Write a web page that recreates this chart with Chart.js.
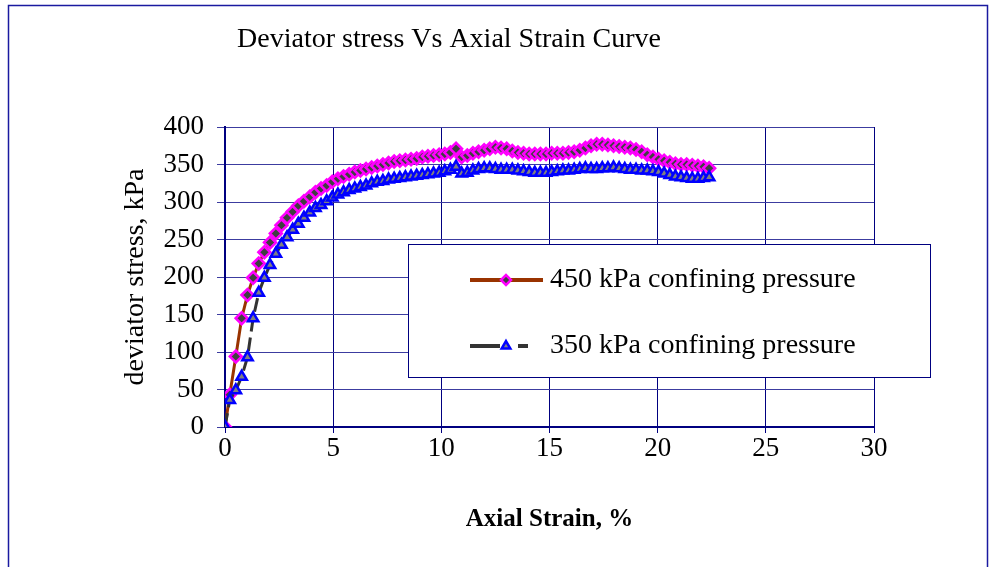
<!DOCTYPE html>
<html>
<head>
<meta charset="utf-8">
<script src="https://cdn.jsdelivr.net/npm/chart.js@4/dist/chart.umd.min.js"></script>
<style>
  body { margin: 0; background: #fff; }
</style>
</head>
<body>
<canvas id="stressChart" width="991" height="567"></canvas>
<script>
// axial strain, %
const strain = [0, 0.22, 0.5, 0.77, 1.04, 1.3, 1.56, 1.82, 2.08, 2.35, 2.61, 2.87, 3.13, 3.39, 3.65, 3.92,
  4.18, 4.44, 4.7, 4.96, 5.22, 5.48, 5.74, 6.0, 6.26, 6.52, 6.78, 7.04, 7.3, 7.56, 7.82, 8.08, 8.34, 8.6,
  8.86, 9.12, 9.38, 9.64, 9.9, 10.16, 10.42, 10.68, 10.94, 11.2, 11.46, 11.72, 11.98, 12.24, 12.5, 12.76,
  13.02, 13.28, 13.54, 13.8, 14.06, 14.32, 14.58, 14.84, 15.1, 15.36, 15.62, 15.88, 16.14, 16.4, 16.66,
  16.92, 17.18, 17.44, 17.7, 17.96, 18.22, 18.48, 18.74, 19.0, 19.26, 19.52, 19.78, 20.04, 20.3, 20.56,
  20.82, 21.08, 21.34, 21.6, 21.86, 22.12, 22.38];

// deviator stress, kPa
const stress450 = [0, 43, 94, 145, 176, 199, 218, 233, 246, 258, 269, 279, 287, 295, 301, 307,
  313, 318, 322, 327, 331, 334, 337, 340, 342, 344, 346, 348, 350, 352, 354, 355, 356, 357,
  358, 360, 361, 362, 363, 364, 366, 371, 360, 362, 365, 367, 369, 371, 373, 372,
  371, 368, 366, 365, 364, 364, 364, 364, 365, 365, 365, 366, 367, 369, 372,
  375, 377, 377, 376, 375, 374, 373, 372, 370, 367, 363, 360, 357, 355, 353,
  351, 350, 350, 349, 348, 347, 345];

const stress350 = [0, 36, 49, 67, 93, 145, 179, 199, 216, 231, 243, 253, 263, 271, 279, 286,
  292, 296, 301, 306, 310, 313, 316, 318, 320, 322, 325, 327, 328, 330, 331, 332, 333, 334,
  335, 336, 337, 338, 339, 341, 343, 347, 338, 339, 342, 344, 345, 345, 344, 343,
  343, 343, 342, 341, 340, 339, 339, 339, 340, 341, 342, 342, 343, 344, 345,
  344, 344, 345, 345, 346, 345, 344, 343, 343, 342, 342, 341, 340, 338, 336,
  334, 333, 332, 331, 331, 332, 333];

const seriesNames = ['450 kPa confining pressure', '350 kPa confining pressure'];
const chartTitle = 'Deviator stress Vs Axial Strain Curve';
const xTitle = 'Axial Strain, %';
const yTitle = 'deviator stress, kPa';

const serif = '"Liberation Serif", "Times New Roman", serif';
const navy = '#000080';

function toPoints(ys) {
  return strain.map((x, i) => ({ x: x, y: ys[i] }));
}

// white page, outer frame, chart title
const framePlugin = {
  id: 'framePlugin',
  beforeDraw(chart) {
    const ctx = chart.ctx;
    ctx.save();
    ctx.fillStyle = '#fff';
    ctx.fillRect(0, 0, chart.width, chart.height);
    ctx.restore();
  },
  afterDraw(chart) {
    const ctx = chart.ctx;
    ctx.save();
    ctx.strokeStyle = '#1a1aa0';
    ctx.lineWidth = 1.5;
    ctx.strokeRect(8.5, 5.5, 979, 600);
    ctx.fillStyle = '#000';
    ctx.font = '28px ' + serif;
    ctx.textAlign = 'center';
    ctx.textBaseline = 'middle';
    ctx.fillText(chartTitle, 449, 40);
    ctx.restore();
  }
};

// legend box sitting over the plot, as in the original
const legendBox = {
  id: 'legendBox',
  afterDraw(chart) {
    const ctx = chart.ctx;
    ctx.save();
    ctx.fillStyle = '#fff';
    ctx.fillRect(408, 244, 522, 133);
    ctx.strokeStyle = navy;
    ctx.lineWidth = 1;
    ctx.strokeRect(408.5, 244.5, 522, 133);
    chart.data.datasets.forEach((ds, i) => {
      const y = 280 + i * 66;
      ctx.strokeStyle = ds.borderColor;
      ctx.lineWidth = 4;
      ctx.setLineDash(ds.borderDash ? [30, 18, 10, 30] : []);
      ctx.beginPath();
      ctx.moveTo(470, y);
      ctx.lineTo(543, y);
      ctx.stroke();
      ctx.setLineDash([]);
      ctx.fillStyle = ds.pointBackgroundColor;
      ctx.strokeStyle = ds.pointBorderColor;
      ctx.lineWidth = ds.pointBorderWidth;
      Chart.helpers.drawPoint(ctx, {
        pointStyle: ds.pointStyle,
        radius: 5,
        borderWidth: ds.pointBorderWidth,
        rotation: 0
      }, 506, y);
      ctx.fillStyle = '#000';
      ctx.font = '28px ' + serif;
      ctx.textAlign = 'left';
      ctx.textBaseline = 'middle';
      ctx.fillText(ds.label, 550, y);
    });
    ctx.restore();
  }
};

const ctx = document.getElementById('stressChart').getContext('2d');
new Chart(ctx, {
  type: 'line',
  data: {
    datasets: [{
      label: seriesNames[0],
      data: toPoints(stress450),
      order: 1,
      borderColor: '#993300',
      borderWidth: 3,
      pointStyle: 'rectRot',
      pointRadius: 6,
      pointBackgroundColor: '#404040',
      pointBorderColor: '#ff00ff',
      pointBorderWidth: 2.5,
      tension: 0
    }, {
      label: seriesNames[1],
      data: toPoints(stress350),
      order: 0,
      borderColor: '#333333',
      borderWidth: 3,
      borderDash: [14, 6],
      pointStyle: 'triangle',
      pointRadius: 6,
      pointBackgroundColor: '#808080',
      pointBorderColor: '#0000ff',
      pointBorderWidth: 2.5,
      tension: 0
    }]
  },
  options: {
    responsive: false,
    animation: false,
    layout: {
      padding: { left: 119, right: 117, top: 127, bottom: 0 }
    },
    plugins: {
      legend: { display: false },
      title: { display: false },
      tooltip: { enabled: false }
    },
    scales: {
      x: {
        type: 'linear',
        min: 0,
        max: 30,
        ticks: {
          stepSize: 5,
          padding: 0,
          color: '#000',
          font: { family: serif, size: 27 }
        },
        grid: { color: navy, lineWidth: 1, tickLength: 6, tickColor: navy },
        border: { color: navy, width: 2 },
        title: {
          display: true,
          text: xTitle,
          color: '#000',
          font: { family: serif, size: 25, weight: 'bold' },
          padding: { top: 0, bottom: 32 }
        },
        afterFit(scale) { scale.height = 140; }
      },
      y: {
        min: 0,
        max: 400,
        ticks: {
          stepSize: 50,
          padding: 13,
          color: '#000',
          font: { family: serif, size: 27 }
        },
        grid: { color: '#3c3ca0', lineWidth: 1, tickLength: 8, tickColor: '#3c3ca0' },
        border: { color: navy, width: 2 },
        title: {
          display: true,
          text: yTitle,
          color: '#000',
          font: { family: serif, size: 28 },
          padding: { top: 0, bottom: 0 }
        },
        afterFit(scale) { scale.width = 106; }
      }
    }
  },
  plugins: [framePlugin, legendBox]
});
</script>
</body>
</html>
